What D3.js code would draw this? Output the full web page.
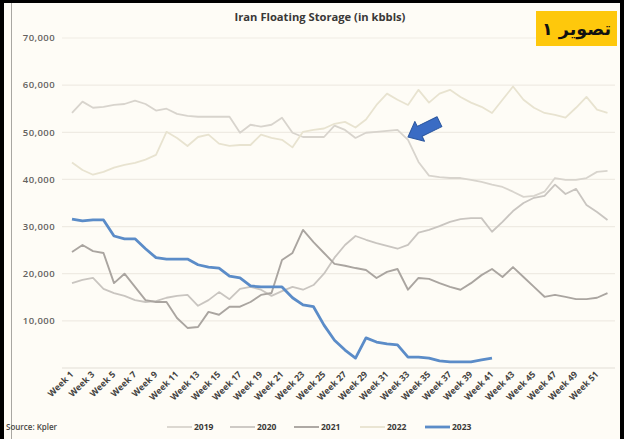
<!DOCTYPE html>
<html>
<head>
<meta charset="utf-8">
<script src="https://cdn.jsdelivr.net/npm/d3@7"></script>
<style>
  body { margin: 0; background: #000; }
  svg { display: block; }
</style>
</head>
<body>
<svg id="chart" width="624" height="439"></svg>
<script>
//Data (kbbls per week)
const weeks = d3.range(1, 53);
const weekTicks = d3.range(1, 52, 2);
const yTicks = [10000, 20000, 30000, 40000, 50000, 60000, 70000];
const years = ['2019', '2020', '2021', '2022', '2023'];

const values2019 = [
  54100, 56500, 55200, 55400, 55800, 56000, 56700, 56000, 54600, 55000,
  53900, 53500, 53300, 53300, 53300, 53300, 49900, 51600, 51200, 51600,
  53100, 49900, 49000, 49000, 49000, 51400, 50500, 48800, 49900, 50100,
  50300, 50500, 48400, 43700, 40800, 40500, 40300, 40300, 39900, 39500,
  38900, 38400, 37400, 36300, 36500, 37400, 40300, 39900, 39900, 40300,
  41600, 41800
];
const values2020 = [
  18000, 18700, 19100, 16800, 15900, 15300, 14400, 14000, 14200, 14900,
  15300, 15500, 13200, 14400, 16100, 14600, 16800, 17200, 16600, 15300,
  16300, 17200, 16600, 17600, 20000, 23400, 26100, 28000, 27200, 26500,
  25900, 25300, 26100, 28700, 29300, 30100, 31000, 31600, 31800, 31800,
  28900, 31000, 33300, 35000, 36100, 36500, 38900, 36900, 38000, 34600,
  33100, 31400
];
const values2021 = [
  24600, 26100, 24800, 24400, 18000, 20000, 17200, 14400, 14000, 14000,
  10600, 8500, 8700, 11900, 11300, 13000, 13000, 14000, 15500, 15900,
  22900, 24400, 29300, 26700, 24400, 22100, 21700, 21200, 20800, 19100,
  20400, 21000, 16600, 19100, 18900, 18000, 17200, 16600, 18000, 19700,
  21000, 19300, 21400, 19300, 17200, 15100, 15500, 15100, 14600, 14600,
  14900, 15900
];
const values2022 = [
  43600, 42000, 41000, 41600, 42500, 43100, 43500, 44200, 45200, 50100,
  48800, 47100, 49000, 49500, 47600, 47100, 47300, 47300, 49500, 48800,
  48400, 46800, 50100, 50500, 50800, 51800, 52200, 51000, 52700, 55800,
  58200, 56900, 55800, 59000, 56300, 58200, 59000, 57500, 56300, 55400,
  54100, 56900, 59700, 56900, 55200, 54100, 53700, 53100, 55200, 57500,
  54800, 54100
];
const values2023 = [
  31600, 31200, 31400, 31400, 28000, 27400, 27400, 25300, 23400, 23100,
  23100, 23100, 21900, 21400, 21200, 19500, 19100, 17400, 17200, 17200,
  17200, 14900, 13400, 13000, 9100, 5900, 3800, 2100, 6400, 5500,
  5100, 4900, 2300, 2300, 2100, 1500, 1300, 1300, 1300, 1700, 2100
];

const series = [
  { year: '2019', values: values2019, color: '#d8d4cd', width: 1.8 },
  { year: '2020', values: values2020, color: '#c9c5c0', width: 1.8 },
  { year: '2021', values: values2021, color: '#aaa5a0', width: 1.9 },
  { year: '2022', values: values2022, color: '#e8e3d0', width: 1.8 },
  { year: '2023', values: values2023, color: '#5b8cc8', width: 2.8 }
];

const svg = d3.select('#chart');
const font = '"Open Sans", "Liberation Sans", sans-serif';

//Frame and background
svg.append('rect').attr('width', 624).attr('height', 439).attr('fill', '#000');
svg.append('rect')
  .attr('x', 4).attr('y', 3).attr('width', 616).attr('height', 436)
  .attr('fill', '#fefcf6');
svg.append('line')
  .attr('x1', 11.5).attr('x2', 11.5).attr('y1', 3).attr('y2', 439)
  .attr('stroke', '#a9a7a2').attr('stroke-width', 1);

//Scales
const x = d3.scaleLinear().domain([1, 52]).range([72, 607.5]);
const y = d3.scaleLinear().domain([0, 70000]).range([368, 38]);

//Gridlines
svg.append('g')
  .selectAll('line')
  .data([0].concat(yTicks))
  .enter()
  .append('line')
    .attr('x1', 62).attr('x2', 615)
    .attr('y1', d => y(d)).attr('y2', d => y(d))
    .attr('stroke', d => d === 0 ? '#e2ded6' : '#efebe3')
    .attr('stroke-width', 1.2);

//Y axis labels
svg.append('g')
  .selectAll('text')
  .data(yTicks)
  .enter()
  .append('text')
    .attr('x', 55)
    .attr('y', d => y(d))
    .attr('dy', '0.35em')
    .attr('text-anchor', 'end')
    .attr('font-family', font)
    .attr('font-size', 9.5)
    .attr('font-weight', 600)
    .attr('letter-spacing', 0.4)
    .attr('fill', '#64625f')
    .text(d3.format(','));

//X axis labels
svg.append('g')
  .selectAll('text')
  .data(weekTicks)
  .enter()
  .append('text')
    .attr('transform', d => `translate(${x(d) + 2},${375}) rotate(-45)`)
    .attr('text-anchor', 'end')
    .attr('font-family', font)
    .attr('font-size', 8.8)
    .attr('font-weight', 700)
    .attr('fill', '#44423f')
    .text(d => 'Week ' + d);

//Lines
const line = d3.line()
  .x((d, i) => x(weeks[i]))
  .y(d => y(d));

svg.append('g')
  .selectAll('path')
  .data(series)
  .enter()
  .append('path')
    .attr('d', d => line(d.values))
    .attr('fill', 'none')
    .attr('stroke', d => d.color)
    .attr('stroke-width', d => d.width)
    .attr('stroke-linejoin', 'round');

//Title
svg.append('text')
  .attr('x', 320).attr('y', 21)
  .attr('text-anchor', 'middle')
  .attr('font-family', font)
  .attr('font-size', 11.2)
  .attr('font-weight', 700)
  .attr('fill', '#3a3836')
  .text('Iran Floating Storage (in kbbls)');

//Yellow label box
svg.append('rect')
  .attr('x', 536).attr('y', 11).attr('width', 81).attr('height', 35)
  .attr('fill', '#fec80c');
svg.append('text')
  .attr('x', 576.5).attr('y', 29)
  .attr('dy', '0.35em')
  .attr('text-anchor', 'middle')
  .attr('direction', 'rtl')
  .attr('font-family', '"DejaVu Sans", sans-serif')
  .attr('font-size', 17.5)
  .attr('font-weight', 700)
  .attr('fill', '#111')
  .text('تصویر ۱');

//Blue arrow pointing at the drop
svg.append('path')
  .attr('transform', `translate(${x(33)},${y(49000)}) rotate(154)`)
  .attr('d', 'M0,0 L-13,-11 L-13,-5.5 L-35,-5.5 L-35,5.5 L-13,5.5 L-13,11 Z')
  .attr('fill', '#3a6cc4')
  .attr('stroke', '#2b579f')
  .attr('stroke-width', 1)
  .attr('stroke-linejoin', 'round');

//Source
svg.append('text')
  .attr('x', 6).attr('y', 430)
  .attr('font-family', font)
  .attr('font-size', 8)
  .attr('font-weight', 600)
  .attr('fill', '#4a4845')
  .text('Source: Kpler');

//Legend
const legendX = [167, 230, 294, 360, 425];
const legend = svg.append('g')
  .selectAll('g')
  .data(series)
  .enter()
  .append('g')
    .attr('transform', (d, i) => `translate(${legendX[i]},427)`);

legend.append('line')
  .attr('x1', 0).attr('x2', 25)
  .attr('stroke', d => d.color)
  .attr('stroke-width', d => d.width);

legend.append('text')
  .attr('x', 27)
  .attr('dy', '0.35em')
  .attr('font-family', font)
  .attr('font-size', 8.5)
  .attr('font-weight', 700)
  .attr('fill', '#3a3836')
  .text(d => d.year);
</script>
</body>
</html>
